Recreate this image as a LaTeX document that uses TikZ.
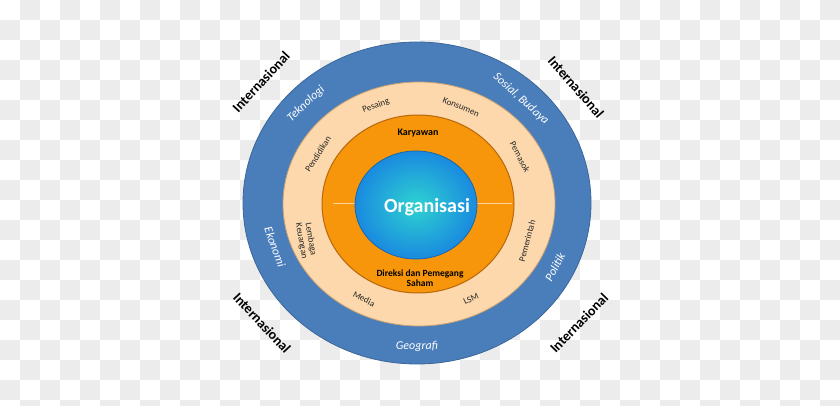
\documentclass[tikz,border=0pt]{standalone}
\usepackage{fontspec}
\setmainfont{Carlito}
\usetikzlibrary{positioning}
\definecolor{checkgray}{HTML}{ECECEC}
\definecolor{ringblue}{HTML}{4A7EBB}
\definecolor{ringblueedge}{HTML}{3A6699}
\definecolor{peach}{HTML}{FCD8AC}
\definecolor{peachedge}{HTML}{C9A071}
\definecolor{ringorange}{HTML}{F7960B}
\definecolor{orangeedge}{HTML}{B8670A}
\definecolor{coreteal}{HTML}{2ED2D0}
\definecolor{coreblue}{HTML}{1A8AE0}
\definecolor{coreedge}{HTML}{1768A8}
\begin{document}
\begin{tikzpicture}[x=1pt,y=-1pt,
  intl/.style={font=\bfseries\fontsize{14}{14}\selectfont,text=black},
  env/.style={font=\itshape\fontsize{12}{12}\selectfont,text=white},
  stake/.style={font=\fontsize{9}{9.5}\selectfont,text=black!85,align=center,inner sep=0pt},
  inner/.style={font=\bfseries\fontsize{10}{10.5}\selectfont,text=black,align=center,inner sep=0pt}]
\useasboundingbox (0,0) rectangle (840,406);
% background squares
\foreach \i in {0,...,41}{\foreach \j in {0,...,20}{
  \pgfmathtruncatemacro\odd{mod(\i+\j,2)}
  \ifnum\odd=1 \fill[checkgray] (20*\i,20*\j) rectangle ++(20,20);\fi}}
% rings
\filldraw[fill=ringblue,draw=ringblueedge,line width=0.8pt] (417,203) ellipse [x radius=174,y radius=161];
\filldraw[fill=peach,draw=peachedge,line width=0.8pt] (419,204) ellipse [x radius=136,y radius=122];
\filldraw[fill=ringorange,draw=orangeedge,line width=1pt] (418,204) ellipse [x radius=96,y radius=89];
\draw[white!60!ringorange,line width=0.8pt] (333,203) -- (512,203);
\shade[inner color=coreteal,outer color=coreblue] (416,205) ellipse [x radius=61,y radius=54];
\draw[coreedge,line width=0.8pt] (416,205) ellipse [x radius=61,y radius=54];
% core
\node[font=\bfseries\fontsize{20}{20}\selectfont,text=white] (org) at (427,207) {Organisasi};
\node[inner] (karyawan) at (418,133) {Karyawan};
\node[inner,font=\bfseries\fontsize{9.5}{10}\selectfont] (direksi) at (420,278) {Direksi dan Pemegang\\Saham};
% stakeholders
\node[stake,rotate=20] (pesaing) at (376,106) {Pesaing};
\node[stake,rotate=-22] (konsumen) at (461,107) {Konsumen};
\node[stake,rotate=57] (pendidikan) at (318,154) {Pendidikan};
\node[stake,rotate=-62] (pemasok) at (520,157) {Pemasok};
\node[stake,rotate=-80] (lembaga) at (306,240) {Lembaga\\Keuangan};
\node[stake,rotate=75] (pemerintah) at (527,241) {Pemerintah};
\node[stake,rotate=-28] (media) at (364,299) {Media};
\node[stake,rotate=25] (lsm) at (471,299) {LSM};
% environment
\node[env,rotate=43] (teknologi) at (306,104) {Teknologi};
\node[env,rotate=-42] (sosial) at (521,99) {Sosial, Budaya};
\node[env,rotate=-70] (ekonomi) at (275,247) {Ekonomi};
\node[env,rotate=62] (politik) at (555,267) {Politik};
\node[env] (geografi) at (417,346) {Geografi};
% international
\node[intl,rotate=47] (intl-ul) at (261,82) {Internasional};
\node[intl,rotate=-49] (intl-ur) at (576,87) {Internasional};
\node[intl,rotate=-47] (intl-ll) at (262,323) {Internasional};
\node[intl,rotate=46] (intl-lr) at (579,323) {Internasional};
\end{tikzpicture}
\end{document}
